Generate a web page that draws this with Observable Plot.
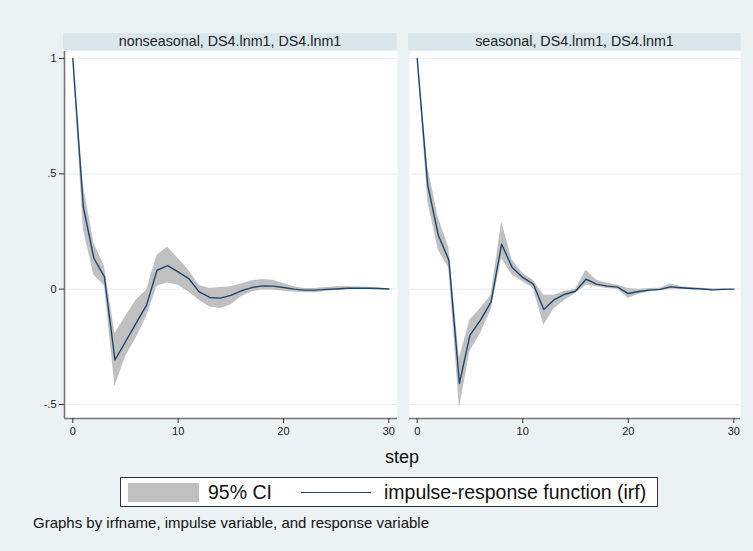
<!DOCTYPE html>
<html>
<head>
<meta charset="utf-8">
<script src="https://cdn.jsdelivr.net/npm/d3@7"></script>
<script src="https://cdn.jsdelivr.net/npm/@observablehq/plot@0.6"></script>
<style>
  html, body { margin: 0; padding: 0; }
  body { width: 753px; height: 551px; background: #eaf2f3; position: relative; overflow: hidden;
         font-family: "Liberation Sans", Arial, sans-serif; }
  .abs { position: absolute; }
  .strip { background: #d9e6eb; color: #222; font-size: 14.3px; text-align: center; line-height: 17px; height: 17px; }
  .xlabel { font-size: 18px; color: #111; }
  .legend { background: #fff; border: 1px solid #333; box-sizing: border-box; }
  .caption { font-size: 15px; color: #111; }
</style>
</head>
<body>
<div id="root"></div>
<script>
// ---- data ----
const steps = [0,1,2,3,4,5,6,7,8,9,10,11,12,13,14,15,16,17,18,19,20,21,22,23,24,25,26,27,28,29,30];
const panels = ["nonseasonal, DS4.lnm1, DS4.lnm1", "seasonal, DS4.lnm1, DS4.lnm1"];
const nonIrf = [1.0, 0.356, 0.134, 0.053, -0.307, -0.228, -0.148, -0.069, 0.082, 0.102, 0.075, 0.046, -0.012, -0.036, -0.039, -0.027, -0.007, 0.007, 0.014, 0.013, 0.007, 0.0, -0.004, -0.004, -0.001, 0.001, 0.004, 0.004, 0.004, 0.003, 0.001];
const nonLo  = [1.0, 0.26, 0.06, 0.015, -0.423, -0.293, -0.213, -0.12, 0.013, 0.027, 0.017, -0.012, -0.048, -0.077, -0.084, -0.069, -0.033, -0.012, -0.004, -0.004, -0.009, -0.012, -0.016, -0.016, -0.010, -0.006, -0.003, -0.002, -0.002, -0.002, 0.0];
const nonHi  = [1.0, 0.45, 0.2, 0.1, -0.192, -0.12, -0.048, -0.005, 0.147, 0.183, 0.133, 0.082, 0.017, 0.003, 0.007, 0.01, 0.022, 0.036, 0.042, 0.039, 0.025, 0.01, 0.003, 0.003, 0.007, 0.01, 0.01, 0.009, 0.008, 0.006, 0.002];
const seaIrf = [1.0, 0.45, 0.234, 0.126, -0.408, -0.199, -0.134, -0.055, 0.195, 0.094, 0.051, 0.022, -0.088, -0.045, -0.022, -0.009, 0.043, 0.022, 0.013, 0.009, -0.019, -0.01, -0.004, -0.001, 0.01, 0.006, 0.003, 0.001, -0.003, -0.001, 0.0];
const seaLo  = [1.0, 0.38, 0.17, 0.09, -0.517, -0.27, -0.192, -0.091, 0.133, 0.061, 0.032, 0.003, -0.156, -0.084, -0.048, -0.019, 0.017, 0.01, 0.003, 0.0, -0.04, -0.022, -0.012, -0.007, 0.0, -0.001, -0.003, -0.002, -0.008, -0.005, 0.0];
const seaHi  = [1.0, 0.53, 0.31, 0.18, -0.3, -0.134, -0.084, -0.026, 0.291, 0.126, 0.068, 0.039, -0.026, -0.026, -0.009, 0.0, 0.082, 0.039, 0.027, 0.017, 0.003, -0.001, 0.003, 0.004, 0.022, 0.01, 0.007, 0.004, 0.001, 0.002, 0.0];
const xTicks = [0, 10, 20, 30];
const yTicks = [1, 0.5, 0, -0.5];
const yTickLabels = ["1", ".5", "0", "-.5"];
const legendLabels = ["95% CI", "impulse-response function (irf)"];
const xTitle = "step";
const captionText = "Graphs by irfname, impulse variable, and response variable";

const lineColor = "#1a476f";
const bandColor = "#c0c0c0";
const gridColor = "#eaf2f3";
const axisColor = "#767676";

const root = document.getElementById("root");
function place(el, x, y, w, h) {
  el.classList.add("abs");
  el.style.left = x + "px"; el.style.top = y + "px";
  if (w != null) el.style.width = w + "px";
  if (h != null) el.style.height = h + "px";
  root.appendChild(el);
  return el;
}

function panelPlot(irf, lo, hi, opts) {
  const rows = steps.map((s, i) => ({step: s, irf: irf[i], lo: lo[i], hi: hi[i]}));
  const [x0, x1] = opts.xdom, [y0, y1] = opts.ydom;
  const marks = [
    Plot.frame({fill: "white", stroke: null}),
    Plot.ruleY(yTicks, {stroke: gridColor, strokeWidth: 1.2}),
    Plot.areaY(rows, {x: "step", y1: "lo", y2: "hi", fill: bandColor, curve: "linear"}),
    Plot.lineY(rows, {x: "step", y: "irf", stroke: lineColor, strokeWidth: 1.4}),
    Plot.ruleY([y0], {stroke: axisColor, strokeWidth: 1.6}),
    Plot.axisX(xTicks, {tickSize: 5, tickPadding: 4, fontSize: 11, fill: "#1a1a1a", stroke: "#333", label: null, tickFormat: d => String(d)})
  ];
  if (opts.yaxis) {
    marks.push(Plot.ruleX([x0], {stroke: axisColor, strokeWidth: 1.6}));
    marks.push(Plot.axisY(yTicks, {tickSize: 5, tickPadding: 3, fontSize: 11, fill: "#1a1a1a", stroke: "#333", label: null,
      tickFormat: d => yTickLabels[yTicks.indexOf(d)]}));
  }
  return Plot.plot({
    width: opts.width, height: opts.height,
    marginLeft: opts.marginLeft, marginRight: 0, marginTop: 0, marginBottom: opts.marginBottom,
    style: {background: "transparent", fontFamily: "'Liberation Sans', Arial, sans-serif", overflow: "visible"},
    x: {domain: opts.xdom, axis: null},
    y: {domain: opts.ydom, axis: null},
    marks
  });
}

const ydom = [-0.5607, 1.0303];

// left panel: plot area x 64..397, y 51..418
const left = panelPlot(nonIrf, nonLo, nonHi, {
  width: 397, height: 394, marginLeft: 64, marginBottom: 27,
  xdom: [-0.788, 30.826], ydom, yaxis: true
});
place(left, 0, 51);

// right panel: plot area x 409..740, y 51..418
const right = panelPlot(seaIrf, seaLo, seaHi, {
  width: 331, height: 394, marginLeft: 0, marginBottom: 27,
  xdom: [-0.73, 30.635], ydom, yaxis: false
});
place(right, 409, 51);

// strips
const s1 = document.createElement("div"); s1.className = "strip"; s1.textContent = panels[0];
place(s1, 63, 33, 334);
const s2 = document.createElement("div"); s2.className = "strip"; s2.textContent = panels[1];
place(s2, 408, 33, 333);

// x title
const xt = document.createElement("div"); xt.className = "xlabel"; xt.textContent = xTitle;
xt.style.textAlign = "center";
place(xt, 346, 447, 112);

// legend
const lg = document.createElement("div"); lg.className = "legend";
place(lg, 120, 477, 538, 30);
const sw = document.createElement("div");
sw.style.cssText = `position:absolute;left:7px;top:5px;width:71px;height:19px;background:${bandColor}`;
lg.appendChild(sw);
const t1 = document.createElement("div");
t1.style.cssText = "position:absolute;left:87px;top:3px;font-size:19.5px;line-height:22px;color:#111;white-space:nowrap";
t1.textContent = legendLabels[0];
lg.appendChild(t1);
const ln = document.createElement("div");
ln.style.cssText = `position:absolute;left:180px;top:14px;width:70px;height:0;border-top:1.5px solid ${lineColor}`;
lg.appendChild(ln);
const t2 = document.createElement("div");
t2.style.cssText = "position:absolute;left:263px;top:3px;font-size:19.5px;line-height:22px;color:#111;white-space:nowrap";
t2.textContent = legendLabels[1];
lg.appendChild(t2);

// caption
const cap = document.createElement("div"); cap.className = "caption"; cap.textContent = captionText;
cap.style.whiteSpace = "nowrap";
place(cap, 33, 514);
</script>
</body>
</html>
